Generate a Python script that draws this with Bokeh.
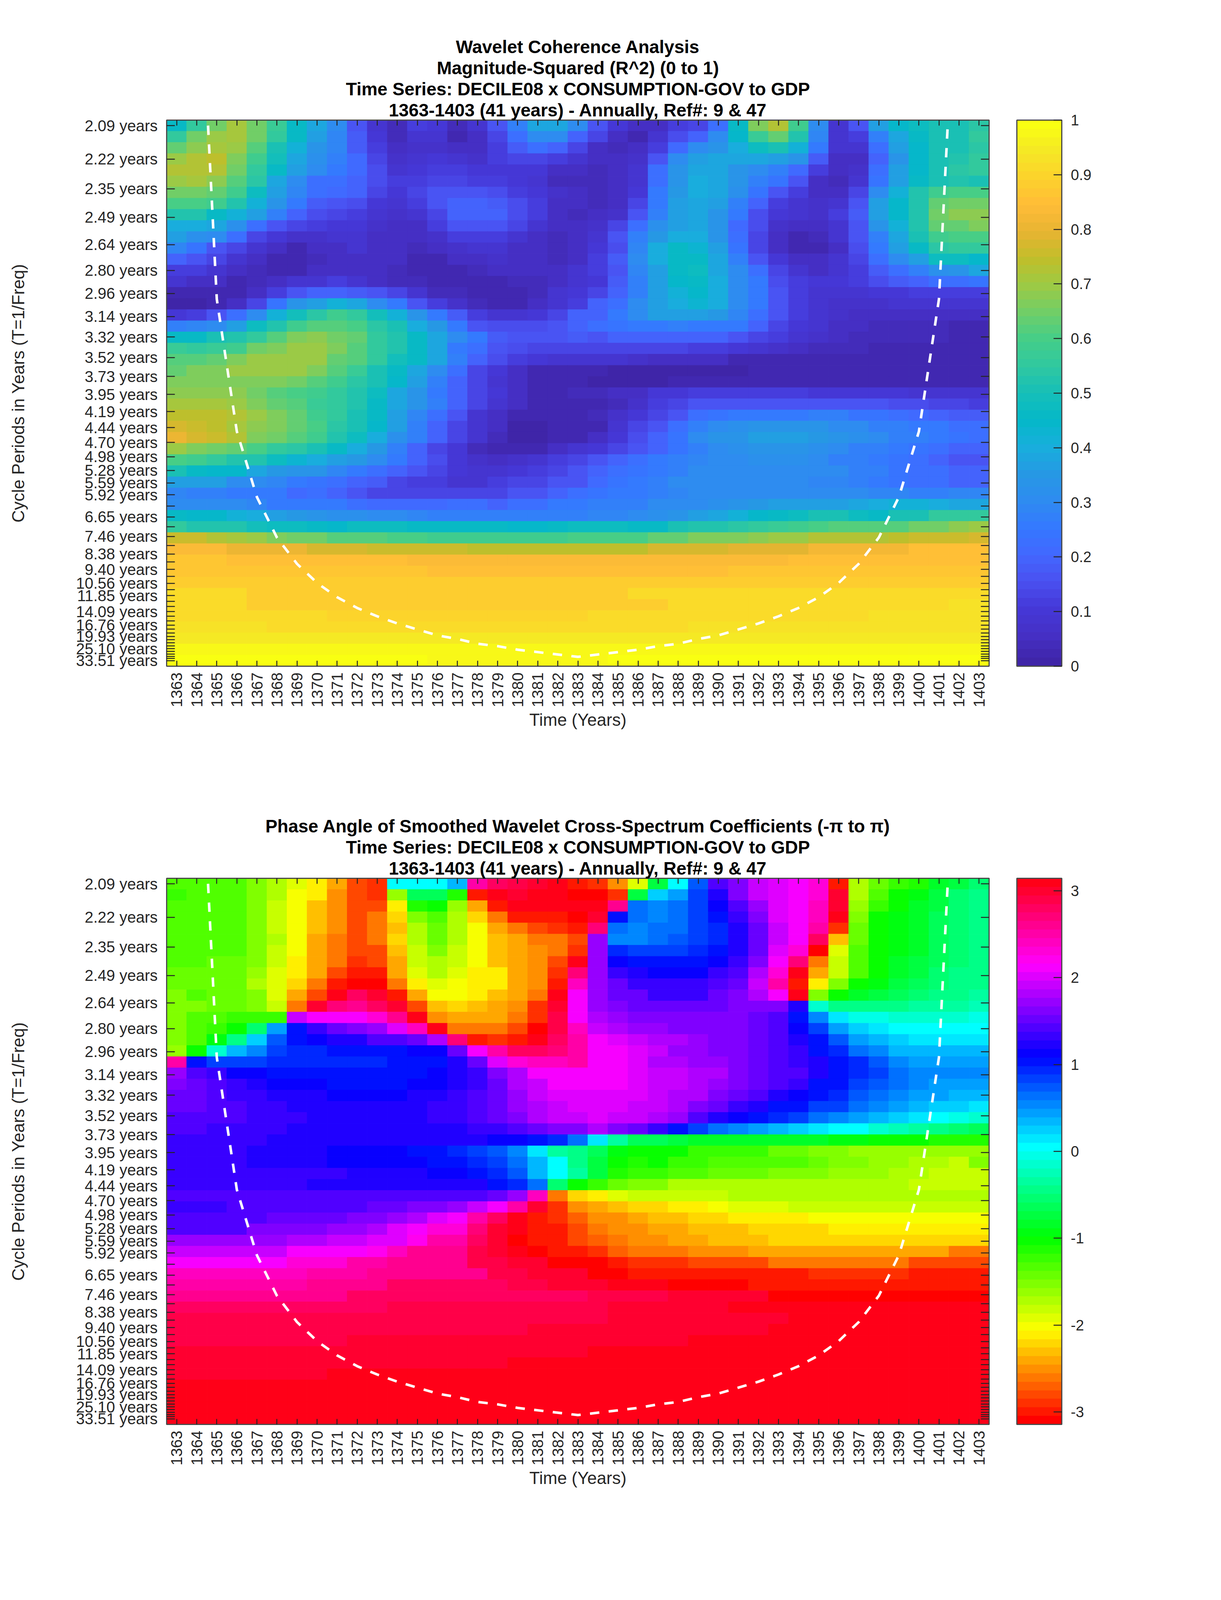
import math
from bokeh.embed import file_html
from bokeh.resources import INLINE
from bokeh.plotting import figure
from bokeh.layouts import column
from bokeh.models import (ColumnDataSource, LinearColorMapper, ColorBar, FixedTicker,
                          LinearAxis, Range1d, Title)

years = list(range(1363, 1404))
periods = [2.09,2.22,2.35,2.49,2.64,2.80,2.96,3.14,3.32,3.52,3.73,3.95,4.19,4.44,4.70,4.98,5.28,5.59,5.92,
           6.27,6.65,7.04,7.46,7.91,8.38,8.88,9.40,9.96,10.56,11.18,11.85,12.56,13.30,14.09,14.93,15.82,
           16.76,17.76,18.81,19.93,21.12,22.37,23.70,25.10,26.60,28.18,29.85,31.63,33.51]
labelled = ["2.09","2.22","2.35","2.49","2.64","2.80","2.96","3.14","3.32","3.52","3.73","3.95","4.19","4.44",
            "4.70","4.98","5.28","5.59","5.92","6.65","7.46","8.38","9.40","10.56","11.85","14.09","16.76",
            "19.93","25.10","33.51"]

coi_years = list(range(1364, 1403))
coi_freq = [.667,.333,.222,.167,.133,.111,.095,.083,.074,.067,.061,.056,.051,.048,.044,.042,.039,.037,.035,.033,
            .035,.037,.039,.042,.044,.048,.051,.056,.061,.067,.074,.083,.095,.111,.133,.167,.222,.333,.667]

coherence = [
[46,55,65,71,65,57,46,38,30,17,8,4,12,10,4,8,16,27,38,38,30,17,10,5,6,12,13,22,46,66,72,58,30,8,16,37,45,47,50,51,54],
[55,65,69,71,65,55,46,37,29,18,10,4,8,8,3,6,13,22,31,30,20,14,6,3,8,15,20,30,44,57,64,53,29,8,11,28,39,46,51,51,55],
[64,68,71,70,62,51,42,34,29,18,11,5,7,7,6,6,12,18,22,20,13,6,4,6,11,21,30,33,40,48,51,42,25,8,8,22,36,45,50,51,54],
[69,72,74,67,59,49,39,32,27,21,14,7,9,10,9,7,11,13,13,11,8,5,5,7,16,30,36,39,39,38,37,33,18,6,6,20,34,45,50,52,55],
[72,73,72,65,56,46,36,30,25,21,15,9,10,12,11,10,10,10,10,6,5,4,5,9,22,33,38,39,34,30,28,21,12,5,7,22,36,45,50,54,55],
[69,71,68,62,54,39,31,23,22,20,15,11,12,14,14,11,11,10,9,4,4,4,5,9,23,33,40,38,33,28,24,17,6,4,9,24,37,46,50,52,51],
[65,65,64,59,47,36,29,22,21,20,14,10,13,16,16,16,15,12,10,7,5,4,5,10,25,35,40,38,32,24,17,11,5,5,13,31,42,52,58,60,60],
[60,60,59,53,42,33,25,18,17,15,10,8,12,16,19,19,18,15,11,6,6,4,6,13,26,36,39,36,28,19,12,9,7,8,16,36,44,53,63,65,65],
[52,52,46,41,37,27,19,15,14,12,8,7,8,14,20,20,19,15,11,5,4,5,7,16,28,36,38,34,26,15,10,8,7,11,18,37,45,53,65,68,68],
[40,40,38,32,23,16,13,11,10,10,7,6,6,11,16,17,17,14,8,6,5,7,13,22,32,37,38,34,21,15,7,6,6,9,16,33,41,53,63,63,66],
[36,32,30,22,14,10,7,7,9,9,6,5,5,7,11,12,12,9,6,4,5,9,17,27,35,40,40,33,22,13,5,2,4,8,16,27,38,50,58,60,60],
[29,24,17,14,8,5,3,5,6,8,6,5,4,5,7,8,8,6,5,4,6,10,15,29,40,46,43,37,24,13,5,2,2,6,15,25,36,46,54,55,55],
[20,17,13,9,5,3,3,4,6,6,6,5,3,3,5,6,7,5,5,4,6,12,18,30,40,46,46,38,28,17,10,6,6,8,13,22,31,37,47,47,45],
[12,11,9,5,4,2,3,5,6,6,5,4,2,2,2,4,5,5,5,5,8,11,17,29,37,46,47,39,31,22,13,8,6,8,12,18,23,28,32,34,38],
[8,6,5,3,4,6,8,9,11,9,6,4,4,3,3,2,2,4,4,6,9,10,18,27,36,45,46,40,31,25,15,12,10,10,11,15,18,20,22,23,24],
[3,3,3,3,6,12,17,19,19,18,17,13,8,4,4,2,3,3,4,8,10,13,19,28,36,41,44,40,31,26,17,12,8,8,8,10,10,11,11,12,12],
[1,1,3,6,14,24,33,37,41,38,30,26,16,11,7,4,3,3,6,9,11,19,23,30,36,40,43,40,31,25,17,11,8,7,7,7,8,8,8,8,8],
[10,11,16,23,31,42,49,54,58,55,49,41,33,25,18,11,9,9,10,14,19,20,26,30,36,36,36,35,29,22,17,11,8,7,6,6,6,6,5,5,5],
[27,29,31,37,47,53,58,62,62,60,54,50,40,35,26,16,15,15,15,17,19,22,24,25,25,28,25,26,26,19,13,10,8,6,6,4,4,4,4,3,3],
[46,46,51,53,55,61,66,68,65,63,56,52,46,38,31,25,18,17,17,17,18,17,19,19,19,19,19,19,16,13,11,8,7,6,4,4,4,4,4,3,3],
[57,56,57,59,65,67,70,70,66,61,56,52,46,38,25,22,16,15,14,14,14,14,14,14,14,13,11,11,10,9,7,6,4,4,4,3,3,3,3,3,3],
[62,62,63,66,70,70,70,70,64,62,55,49,46,38,28,20,15,11,10,9,8,8,8,7,5,5,5,5,3,3,3,3,3,3,3,3,3,3,3,3,3],
[63,67,67,69,69,69,69,67,62,57,50,46,38,30,22,14,10,6,3,3,2,2,1,1,1,1,1,1,1,2,2,2,2,2,2,2,2,2,2,2,2],
[67,67,67,67,67,67,65,62,59,54,51,45,36,28,20,13,9,5,3,2,2,1,1,1,1,2,2,2,2,2,2,2,2,2,2,2,2,2,2,3,3],
[68,68,68,68,65,62,60,58,55,52,47,39,33,26,20,14,10,5,3,2,4,4,5,6,10,10,11,11,11,11,11,11,10,10,10,10,10,9,9,8,8],
[71,71,71,69,66,64,62,57,55,52,46,39,33,27,20,14,9,5,3,2,2,3,4,7,12,14,16,16,16,16,17,17,17,17,16,16,15,15,14,13,12],
[74,74,74,72,70,66,63,58,56,50,46,37,29,22,16,9,6,3,2,3,3,4,7,10,14,17,22,24,26,26,26,26,27,27,24,24,22,21,20,18,18],
[78,76,74,71,68,66,63,60,54,51,44,36,27,20,14,8,5,1,1,2,2,3,9,13,17,22,27,30,32,34,34,34,33,31,30,28,27,26,25,22,22],
[80,78,75,72,67,65,62,58,53,47,40,32,27,20,14,8,4,1,1,3,3,5,10,15,20,24,30,33,34,36,37,36,35,34,32,30,28,27,25,24,23],
[70,67,65,63,60,56,54,50,46,40,35,27,20,14,10,4,3,3,3,6,8,10,13,17,20,24,28,30,32,33,33,33,32,30,28,27,25,24,22,20,20],
[60,58,56,53,52,48,43,40,37,35,31,26,20,15,10,7,5,7,9,11,14,17,20,22,25,28,29,31,31,32,32,32,30,28,28,26,24,22,20,17,16],
[50,46,44,44,38,35,34,33,29,25,22,20,16,13,10,9,9,10,11,14,17,19,22,24,26,28,30,31,31,31,31,31,30,30,28,27,24,23,22,20,19],
[36,36,36,31,30,29,26,24,23,19,18,14,12,11,9,9,11,13,14,16,17,21,24,25,28,30,30,30,30,31,31,31,29,29,28,26,24,23,22,20,20],
[29,28,28,26,26,25,21,22,20,17,13,13,14,14,14,14,14,16,17,20,22,24,25,26,28,29,30,31,31,31,31,31,30,30,30,29,29,28,28,29,29],
[31,31,31,30,29,26,26,25,25,22,21,21,21,21,22,22,20,22,23,25,25,27,27,27,30,30,31,32,34,35,36,36,36,37,39,40,42,42,40,38,38],
[46,45,45,42,40,37,35,34,32,32,31,30,29,28,28,27,27,27,28,28,28,29,29,31,32,34,37,39,41,44,46,47,50,50,47,46,50,50,55,56,55],
[55,53,53,52,49,47,47,46,45,47,47,48,46,46,46,46,46,45,45,46,47,47,47,46,46,50,52,52,54,55,57,58,60,61,62,62,62,65,65,68,70],
[75,75,73,71,70,67,65,65,62,62,61,60,60,58,59,58,58,58,58,58,60,60,60,60,64,64,66,66,67,68,70,70,73,73,73,73,74,76,76,76,78],
[84]*3+[80]*4+[78]*3+[76]*5+[74]*9+[77]*4+[79]*4+[82]*5+[85]*4,
[87]*3+[85]*9+[83]*19+[85]*10,
[87]*13+[85]*15+[87]*13,
[89]*41,
[91]*4+[89]*19+[91]*18,
[91]*4+[89]*21+[91]*14+[93]*2,
[92]*8+[90]*13+[92]*14+[93]*6,
[93]*5+[92]*21+[93]*15,
[95]*41,
[97]*41,
[99]*13+[98]*9+[99]*19,
]

phase = [
[-13,-13,-13,-13,-15,-17,-19,-21.5,-24,-28,-29,0,0,0,3,25,28,29,30,31,-30,-29,-25,-19,-7,0,7,14,16,19,20,21,23,-30,-17,-14,-12,-11,-8,-7,-5],
[-12,-13,-13,-13,-15,-17,-20,-21.5,-25,-28,-28.5,-16,-6,-6,-11,-30,31,30,30.5,30.5,-31,-31,-29,-7,2.5,4,8,12.5,16,19,20,21,23.5,30,-17,-13,-10.5,-9,-7,-5,-4],
[-13,-13,-13,-13,-15,-18,-20,-23,-25,-28,-28,-21,-11,-10.5,-16,-24.5,-29.5,31,31,30.5,30.5,30.5,26,6.5,5,6.5,8,11.5,14,17,20,21,24,30,-16,-12,-10.5,-8,-7,-5,-4],
[-13,-13,-13,-13,-15,-18,-20,-23,-25,-28,-26.5,-22,-15,-13,-17,-22,-26.5,-29.5,-30,-30,-31,29.5,10.5,6.5,5,6.5,8,10.5,13,16,20,21,24,31,-15,-10.5,-9.5,-8,-6,-5,-4],
[-13,-13,-13,-13,-15,-18,-20,-23,-25,-28,-26.5,-23.5,-17,-14,-17,-20,-24,-26.5,-27.5,-28.5,-29.5,27,6.5,5,6.5,6.5,8,9.5,12,15,19,21,25,-28.5,-14,-10.5,-9,-8,-6,-5,-4],
[-13,-13,-13,-13,-15,-17,-20,-24,-26.5,-28,-26.5,-22,-17,-14,-17,-20,-23,-24.5,-26,-26,-27.5,17,5,5,6.5,7.5,8,9.5,12,15,19,21,28,-23,-14,-10.5,-9,-8,-6,-5,-4],
[-13,-13,-13,-13.5,-15,-18,-20,-24,-26.5,-28,-28,-23,-18,-15.5,-18,-20,-23,-24.5,-25,-26,-28.5,17,9,8.5,8.5,8.5,9,10.5,12,15,20,23.5,-31,-19,-13,-10.5,-9,-8,-6,-5,-4],
[-13.5,-13.5,-14,-14,-15,-18,-21,-24,-26.5,-28.5,-28,-24,-18,-17,-18,-20,-23,-24,-25,-27.5,31,17,11.5,10,10,10,10.5,11.5,13,16,21,27,-26.5,-18,-13,-10.5,-8.5,-7.5,-6,-5,-4],
[-14,-14,-14,-14,-16,-19,-21,-24.5,-28,-29.5,-29.5,-24.5,-19,-17.5,-19,-21,-21.5,-24,-25,-28.5,27,17,13,12,11,11,11,13,14,18,23,31,-24,-18,-13,-10.5,-8.5,-7,-5.5,-4.5,-4],
[-14,-14,-14,-14,-17,-19,-22,-26,-29.5,-31,-31,-26,-21,-19,-20,-21,-21.5,-24,-25,-30,24,17.5,15,13,13,13,13,14,15,19,25,-30,-21,-15,-10.5,-9,-7.5,-6.5,-5.5,-4.5,-4],
[-15,-13.5,-14,-14,-15,-19,-24,-28,31,28,30,-30,-24,-20,-20,-21,-23,-24,-26,30.5,21,17,15,15,13.5,13.5,13.5,15,16,18,21,31,-15,-10.5,-8,-7,-6,-5,-4.5,-4,-3.5],
[-15,-15,-14,-14,-15,-18,-26,29.5,27,26,28,29.5,-28,-23,-22,-23,-24,-25,-28.5,30,21,17,16,15,15,15,15,15,16,16,16,12.5,-1.5,-4,-4,-4,-4,-3,-3,-3,-2],
[-15,-13.5,-13.5,-12,-12,-12,19.5,21,21,21.5,23,26,31,-25,-24,-24,-24.5,-26,-29,29,21.5,18.5,17.5,16,16,16,16,16,16,15,14,10.5,5,1,-0.5,-0.5,-1.5,-1.5,-1.5,-1.5,-0.5],
[-15,-13.5,-12,-10.5,-5.5,4,10.5,13.5,15,16,17.5,20,24,31,-26,-26,-26,-28,-31,29,24,19.5,18,17.5,17,16,16,16,16,15,14,11.5,8,4,2,1,0,0,0,0,0],
[-15.5,-13,-9,-4,2,7,10,11.5,12.5,12.5,14,14,15,18,27,-30,-29,-30,30.5,28,25,21,20,19,18,18,17,16,16,15,14.5,12.5,10,7,4,3,2,1,1,1,1],
[-16.5,-10,-1.5,3,5.5,8,9.5,9.5,10.5,10.5,10.5,10.5,11.5,11.5,15,21,25.5,28,28,27,25,21,21,20,19,17.5,17.5,16,16,15,14.5,13,10.5,9,6.5,5,3.5,3.5,3.5,3.5,3.5],
[25,10,8,8,8,9.5,9.5,9.5,9.5,9.5,9.5,10.5,10.5,10.5,12.5,15.5,20,23,24.5,24.5,25,21,21,20,18.5,18.5,17,17,16,15,14.5,13.5,12,10,9,7,5.5,4.5,4.5,4.5,4.5],
[17.5,14.5,13,11.5,11.5,10.5,10.5,10.5,10.5,10.5,10.5,10.5,10.5,11.5,12.5,13.5,16,18.5,21,21,21,21,21,20,19,19,18,18,16,15,14.5,14,12,10,9,8,6.5,5,5,5,5],
[16,15,14,13.5,12,11.5,11,11,10.5,10.5,10.5,10.5,11.5,11.5,12.5,13.5,15.5,18,19,21,21,21,21,20,19,19,18,17,16,15,14.5,13,10.5,10,8.5,7.5,6.5,5.5,4.5,4.5,4.5],
[15,15,14,13.5,13.5,12.5,12.5,12.5,11.5,11.5,11.5,11.5,12.5,12.5,13.5,14.5,15.5,17.5,19,20,20,20,20,20,19,18,18,16.5,15,14,12.5,11.5,10,9,7.5,6.5,5.5,4,4,3,3],
[15,15,14.5,14.5,13.5,13.5,12.5,12.5,12.5,12.5,12.5,12.5,12.5,13.5,13.5,14.5,15.5,17,18,19,20,20,20,19,19,18,16.5,15.5,13,12.5,10.5,10,8.5,8,6.5,5,4,3,2,2,1],
[14.5,14.5,14.5,14.5,13.5,13.5,13.5,12.5,12.5,12.5,12.5,12.5,12.5,13.5,13.5,14.5,15.5,16.5,18,19,19,20,19,19,18,17,14,12.5,11.5,10.5,9.5,8,6.5,5,4,3,2,1,0,-0.5,-1.5],
[14.5,14.5,13.5,13.5,13.5,13.5,12.5,12.5,12.5,12.5,12.5,12.5,12.5,12.5,12.5,13,13.5,14.5,15,16,16.5,18,16.5,15,13.5,10.5,8.5,6.5,5.5,4,3,2,1,0,0,-1,-2,-3,-4,-5,-6],
[13.5,13.5,13.5,13.5,13.5,12.5,12.5,12.5,12.5,12.5,12,12,12,12,12,12,11,11,10,9,6,1,-3.5,-6.5,-6.5,-7.5,-8,-8,-8,-8,-8,-8,-8,-9,-9,-10,-10,-10,-11,-11,-11],
[13.5,13.5,13.5,13.5,12.5,12.5,12,12,11.5,11.5,11.5,11.5,10.5,10.5,9.5,8.5,7,5,1,-3,-4,-6.5,-9,-10.5,-10.5,-10.5,-12,-12,-12,-12,-14,-14,-15,-15,-16,-16,-16,-16,-16,-16,-16],
[13.5,13.5,13.5,13.5,12.5,12.5,12.5,12,11.5,11.5,11.5,11,11,10.5,10,9,8,6.5,3,0,-4,-7,-10,-11,-10.5,-12,-12,-13,-13,-13,-13.5,-13.5,-14,-15,-15.5,-16,-16,-17,-17,-18,-15],
[13.5,13.5,13.5,13.5,13,13,13,13,13,12,12,12,12,11,11,10.5,9.5,7.5,3.5,0,-3.5,-7.5,-11,-12,-12,-13.5,-13.5,-14,-14,-14.5,-15,-15,-15.5,-16,-16,-16.5,-17,-17,-18,-18,-18],
[13.5]*7+[12.5]*7+[12,12,10.5,9.5,6.5,-5.5,-10,-12,-14.5,-15,-15]+[-17]*8+[-17.5]*4+[-18]+[-18.5]*3,
[14]*13+[14.5]*3+[15.5,17,24,-26.5,-22.5,-21,-19.5]+[-18.5]*5+[-17.5]*13,
[13.5]*3+[14]*7+[15]*2+[16]*2+[17,19,21,25,30,-29,-25,-24,-23,-22,-22,-21.5,-21.5,-20]+[-19.5]*3+[-18.5]*10,
[14.5]*5+[15]*4+[16]*2+[17.5,18.5,20,21.5,25,27.5,30.5,-30,-29,-27,-25.5,-25,-24.5,-23.5,-23.5,-22.5,-22.5]+[-21.5]*4+[-20]*9,
[14.5]*4+[16]*4+[17]*2+[18.5,20,21,23,23,27,29.5,31,-30,-29.5,-27.5,-26.5,-25.5,-25,-24,-24,-23.5,-23,-23]+[-22]*4+[-21]*8,
[17]*6+[18.5]*2+[19.5]*2+[20.5]*2+[22.5,25,25,28,30,-31,-30,-29.5,-28,-27,-26,-25,-25,-24,-24]+[-23.5]*3+[-22.5]*11,
[19.5]*6+[21]*4+[22.5,24.5,26,26,26,29,30,31,-31,-29.5,-29.5,-29,-27,-26,-26,-26,-25,-25,-25]+[-24]*10+[-26]*2,
[21.5]*6+[23.5]*3+[25]*2+[26.5]*4+[29,29,30,30,-31,-30.5,-30.5,-29.5,-28.5,-28.5,-28.5]+[-27.5]*4+[-26.5]*7+[-28]*4,
[24]*7+[25]*3+[26.5]*6+[29,29,30,30,30,-31,-31,-30,-30,-30]+[-29.5]*6+[-28.5]*5+[-30]*4,
[25]*7+[26]*4+[27.5]*6+[28.5,28.5,29.5,29.5,29.5,30.5,30.5,30.5,-31,-31,-31,-31]+[-30]*12,
[26]*9+[27.5]*8+[28]*4+[29]*4+[30]*5+[-31]*11,
[27.5]*11+[28.5]*11+[29.5]*6+[30.5]*13,
[28.5]*14+[29]*8+[29.5]*9+[30.5]*10,
[29]*18+[30]*12+[30.5]*11,
[29]*9+[30]*17+[30.5]*15,
[30]*21+[30.5]*20,
[30]*17+[30.5]*24,
[29.5]*8+[30.5]*33,
[30.5]*41,
[30.5]*41,
[30.5]*41,
[30.5]*41,
]
for m in (coherence, phase):
    assert len(m) == 49, len(m)
    for i, r in enumerate(m):
        assert len(r) == 41, (i, len(r))

CB1 = ["#3f25a8","#4530c5","#4538d8","#4a50f0","#4268ff","#3478ff","#2e8cf0","#2698e4","#18aedc","#04b8c8","#16bfb8",
       "#30c8a0","#44ce88","#70ce68","#9cca45","#c0be2a","#e8b432","#ffbc38","#fdd22c","#f5e825","#f9ff12"]
def rgb(h):
    return tuple(int(h[i:i+2], 16)/255 for i in (1, 3, 5))
def hexc(r, g, b):
    return "#%02x%02x%02x" % (int(round(r*255)), int(round(g*255)), int(round(b*255)))
def parula(n):
    out = []
    for i in range(n):
        t = i/(n-1)*20
        k = min(int(t), 19)
        f = t-k
        a, b = rgb(CB1[k]), rgb(CB1[k+1])
        out.append(hexc(*[a[c]*(1-f)+b[c]*f for c in range(3)]))
    return out
def hsv(n):
    out = []
    for i in range(n):
        h = i/n*6
        k = int(h) % 6
        f = h-int(h)
        out.append(hexc(*[(1,f,0),(1-f,1,0),(0,1,f),(0,1-f,1),(f,0,1),(1,0,1-f)][k]))
    return out

FONT = "Liberation Sans"
DARK = "#262626"
EDGE = "#4a4a4a"
df = (1/periods[0]-1/periods[-1])/48
f_top = 1/periods[0]+df/2
f_bot = 1/periods[-1]-df/2
FRAME_H = 1398

def panel(values, mapper, titles, cb_ticks, cb_overrides, height, top, bottom):
    left, right, tops, bots, vals = [], [], [], [], []
    for r, row in enumerate(values):
        for c, v in enumerate(row):
            left.append(years[c]-.5); right.append(years[c]+.5)
            tops.append(f_top-r*df); bots.append(f_top-(r+1)*df); vals.append(v)
    src = ColumnDataSource(dict(left=left, right=right, top=tops, bottom=bots, value=vals))
    p = figure(width=3125, height=height, x_range=Range1d(1362.5, 1403.5), y_range=Range1d(f_bot, f_top),
               output_backend="svg", toolbar_location=None, x_axis_type=None, y_axis_type=None,
               min_border_left=426, min_border_right=594, min_border_top=top, min_border_bottom=bottom,
               outline_line_color=EDGE, outline_line_width=3, background_fill_color="white")
    tr = {"field": "value", "transform": mapper}
    p.quad(left="left", right="right", top="top", bottom="bottom", source=src, fill_color=tr, line_color=tr, line_width=1)
    p.line(coi_years, coi_freq, line_color="white", line_width=6.5, line_dash="24 24")

    yt = FixedTicker(ticks=[1/v for v in periods])
    xt = FixedTicker(ticks=years)
    yl = {}
    for v in periods:
        s = "%.2f" % v
        yl[1/v] = s+" years" if s in labelled else ""
    blank_y = {1/v: "" for v in periods}
    blank_x = {y: "" for y in years}

    def style(ax, tick):
        ax.major_tick_in = tick; ax.major_tick_out = 0
        ax.minor_tick_line_color = None
        ax.major_tick_line_color = DARK; ax.major_tick_line_width = 2.5
        ax.axis_line_color = EDGE; ax.axis_line_width = 3
        ax.major_label_text_font = FONT; ax.major_label_text_font_size = "40px"
        ax.major_label_text_color = DARK
        ax.axis_label_text_font = FONT; ax.axis_label_text_font_size = "44px"
        ax.axis_label_text_font_style = "normal"; ax.axis_label_text_color = DARK

    ly = LinearAxis(ticker=yt, major_label_overrides=yl, axis_label="Cycle Periods in Years (T=1/Freq)")
    style(ly, 21); ly.major_label_standoff = 23; ly.axis_label_standoff = 120
    p.add_layout(ly, "left")
    lx = LinearAxis(ticker=xt, major_label_overrides={y: str(y) for y in years}, axis_label="Time (Years)",
                    major_label_orientation=math.pi/2)
    style(lx, 14); lx.major_label_standoff = 16; lx.axis_label_standoff = 5
    p.add_layout(lx, "below")
    ra = LinearAxis(ticker=yt, major_label_overrides=blank_y)
    style(ra, 21); ra.major_label_standoff = 0; ra.major_label_text_font_size = "1px"
    p.add_layout(ra, "right")
    ta = LinearAxis(ticker=xt, major_label_overrides=blank_x)
    style(ta, 14); ta.major_label_standoff = 0; ta.major_label_text_font_size = "1px"
    p.add_layout(ta, "above")

    cb = ColorBar(color_mapper=mapper, ticker=FixedTicker(ticks=cb_ticks), major_label_overrides=cb_overrides,
                  width=115, height=FRAME_H, padding=0, margin=0, location=(71, 0),
                  major_tick_in=21, major_tick_out=0, major_tick_line_color=DARK, major_tick_line_width=2.5,
                  minor_tick_line_color=None, bar_line_color=EDGE, bar_line_width=3, label_standoff=23,
                  major_label_text_font=FONT, major_label_text_font_size="38px", major_label_text_color=DARK)
    p.add_layout(cb, "right")

    for t in reversed(titles):
        p.add_layout(Title(text=t, align="center", text_font=FONT, text_font_size="46px",
                           text_font_style="bold", text_color="black", standoff=0), "above")
    return p

cb1_ticks = [0, .1, .2, .3, .4, .5, .6, .7, .8, .9, 1]
cb1_labels = {0: "0", .1: "0.1", .2: "0.2", .3: "0.3", .4: "0.4", .5: "0.5", .6: "0.6", .7: "0.7", .8: "0.8", .9: "0.9", 1: "1"}
cb2_ticks = [-3, -2, -1, 0, 1, 2, 3]
cb2_labels = {-3: "-3", -2: "-2", -1: "-1", 0: "0", 1: "1", 2: "2", 3: "3"}

m1 = LinearColorMapper(palette=parula(64), low=0, high=1)
m2 = LinearColorMapper(palette=hsv(64), low=-3.14159, high=3.14159)

p1 = panel([[v/100 for v in r] for r in coherence], m1,
           ["Wavelet Coherence Analysis", "Magnitude-Squared (R^2) (0 to 1)",
            "Time Series: DECILE08 x CONSUMPTION-GOV to GDP", "1363-1403 (41 years) - Annually, Ref#: 9 & 47"],
           cb1_ticks, cb1_labels, 1960, 307, 255)
p2 = panel([[v/10 for v in r] for r in phase], m2,
           ["Phase Angle of Smoothed Wavelet Cross-Spectrum Coefficients (-\u03c0 to \u03c0)",
            "Time Series: DECILE08 x CONSUMPTION-GOV to GDP", "1363-1403 (41 years) - Annually, Ref#: 9 & 47"],
           cb2_ticks, cb2_labels, 2120, 288, 434)

open("out.html", "w").write(file_html(column(p1, p2, spacing=0), INLINE))
